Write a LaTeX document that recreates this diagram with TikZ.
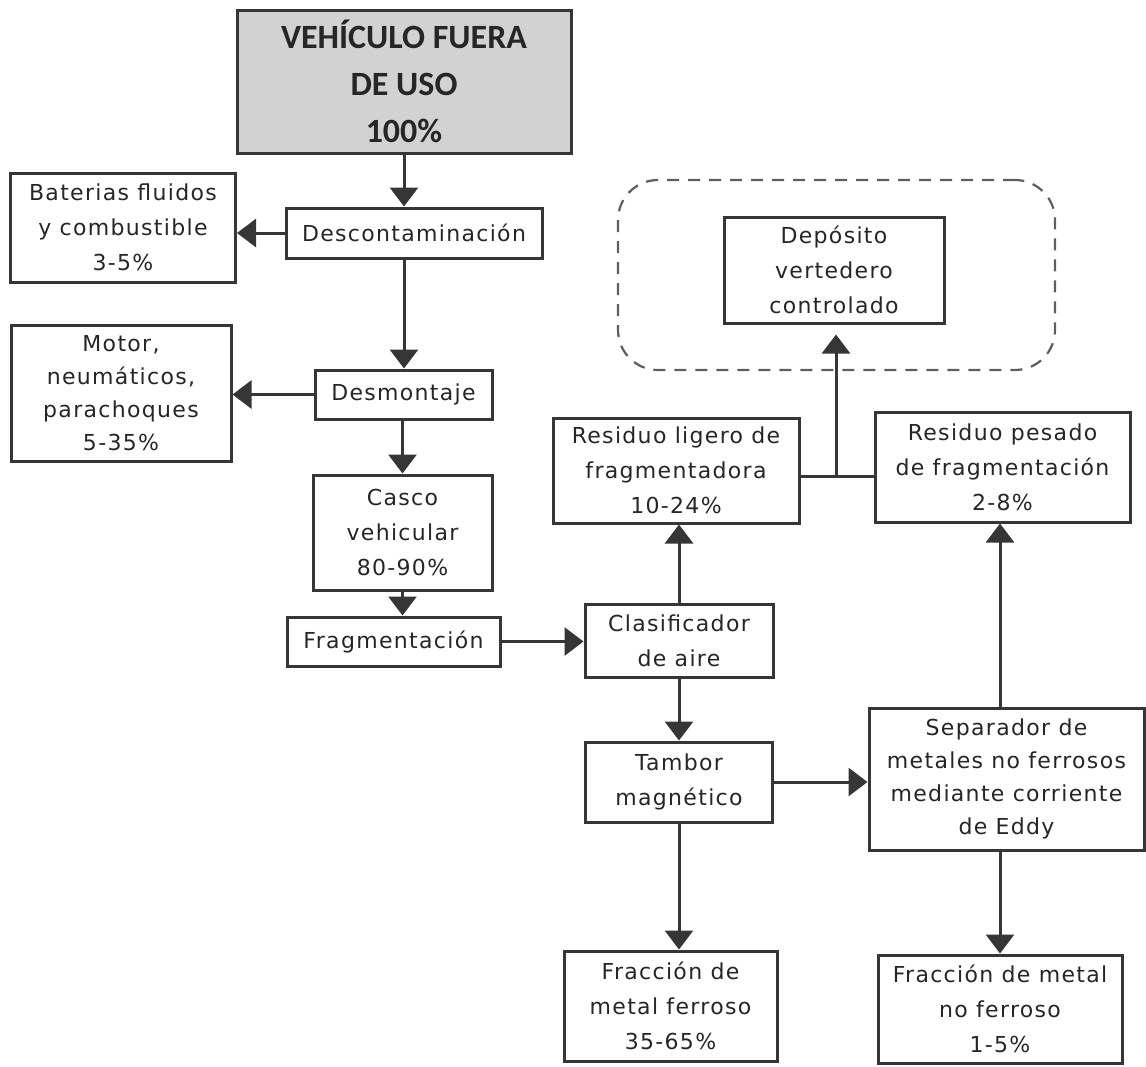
\documentclass[tikz,border=0pt]{standalone}
\usepackage{fontspec}
\setmainfont{DejaVu Sans}[LetterSpace=6]
\newfontfamily\titlefont{Carlito}
\usetikzlibrary{arrows.meta}
\definecolor{ln}{HTML}{363636}
\definecolor{tx}{HTML}{262626}
\definecolor{titlefill}{HTML}{D2D2D2}
\tikzset{
  box/.style={draw=ln, line width=3pt, fill=white, inner sep=0pt, align=center,
    text=tx, font=\fontsize{22}{35}\selectfont},
  titlebox/.style={box, fill=titlefill, font=\titlefont\bfseries\fontsize{34}{47}\selectfont},
  arr/.style={draw=ln, line width=3pt, -{Triangle[width=28pt,length=19pt]}},
  plain/.style={draw=ln, line width=3pt},
  group/.style={draw=ln!80, line width=2.2pt, dash pattern=on 12pt off 9pt, rounded corners=40pt, inner sep=0pt}
}
\begin{document}
\begin{tikzpicture}[x=1pt,y=-1pt]
\path[use as bounding box] (0,0) rectangle (1146,1066);
% group frame
\node[group, minimum width=437pt, minimum height=190pt] (grp) at (836.5,275) {};
% left column
\node[titlebox, minimum width=334pt, minimum height=143pt] (top) at (404,81.5) {VEHÍCULO FUERA\\DE USO\\100\%};
\node[box, minimum width=256pt, minimum height=50pt] (desc) at (414,233) {Descontaminación};
\node[box, minimum width=225pt, minimum height=109pt] (bat) at (123,227.5) {Baterias fluidos\\y combustible\\3-5\%};
\node[box, minimum width=177pt, minimum height=49pt] (desm) at (403.5,394.5) {Desmontaje};
\node[box, minimum width=220pt, minimum height=136pt, font=\fontsize{22}{33}\selectfont] (motor) at (121,393) {Motor,\\neumáticos,\\parachoques\\5-35\%};
\node[box, minimum width=179pt, minimum height=115pt] (casco) at (402.5,532.5) {Casco\\vehicular\\80-90\%};
\node[box, minimum width=213pt, minimum height=49pt] (frag) at (393.5,641.5) {Fragmentación};
% middle / right
\node[box, minimum width=188pt, minimum height=73pt] (clas) at (679,640.5) {Clasificador\\de aire};
\node[box, minimum width=246pt, minimum height=105pt] (lig) at (676,470.5) {Residuo ligero de\\fragmentadora\\10-24\%};
\node[box, minimum width=255pt, minimum height=110pt] (pes) at (1002.5,467) {Residuo pesado\\de fragmentación\\2-8\%};
\node[box, minimum width=220pt, minimum height=106pt] (dep) at (834,270) {Depósito\\vertedero\\controlado};
\node[box, minimum width=187pt, minimum height=80pt] (tam) at (679,782) {Tambor\\magnético};
\node[box, minimum width=275pt, minimum height=142pt, font=\fontsize{22}{33}\selectfont] (sep) at (1006.5,779) {Separador de\\metales no ferrosos\\mediante corriente\\de Eddy};
\node[box, minimum width=213pt, minimum height=110pt] (ferr) at (670.5,1006) {Fracción de\\metal ferroso\\35-65\%};
\node[box, minimum width=244pt, minimum height=108pt] (noferr) at (1000,1009) {Fracción de metal\\no ferroso\\1-5\%};
\coordinate (j) at (836,476);
% connectors
\draw[arr] (top.south) -- (top.south |- desc.north);
\draw[arr] (desc.west) -- (bat.east |- desc.west);
\draw[arr] (top.south |- desc.south) -- (top.south |- desm.north);
\draw[arr] (desm.west) -- (motor.east |- desm.west);
\draw[arr] (casco.north |- desm.south) -- (casco.north);
\draw[arr] (casco.south) -- (casco.south |- frag.north);
\draw[arr] (frag.east) -- (clas.west |- frag.east);
\draw[arr] (clas.north) -- (clas.north |- lig.south);
\draw[arr] (clas.south) -- (clas.south |- tam.north);
\draw[arr] (tam.east) -- (sep.west |- tam.east);
\draw[arr] (tam.south) -- (tam.south |- ferr.north);
\draw[arr] (noferr.north |- sep.south) -- (noferr.north);
\draw[arr] (noferr.north |- sep.north) -- (noferr.north |- pes.south);
\draw[plain] (lig.east |- j) -- (pes.west |- j);
\draw[arr, shorten >=10pt] (j) -- (j |- dep.south);
\end{tikzpicture}
\end{document}
